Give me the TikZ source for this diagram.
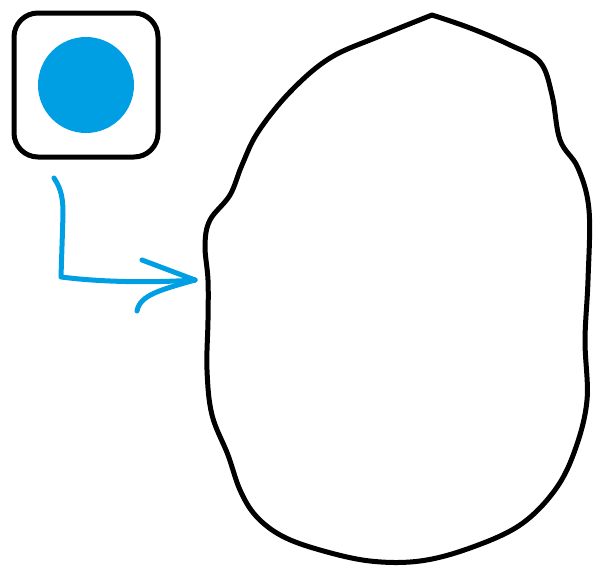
\documentclass[tikz,border=0pt]{standalone}
\definecolor{iconblue}{HTML}{009FE3}
\tikzset{
  outline/.style={line width=5pt, draw=black, line join=round, line cap=round},
  bluearrow/.style={line width=5pt, draw=iconblue, line cap=round, line join=round}
}
\begin{document}
\begin{tikzpicture}[x=1pt,y=-1pt]
\useasboundingbox (0,0) rectangle (601,570);
% icon
\node[outline, rounded corners=24pt, minimum width=144pt, minimum height=144pt, inner sep=0pt] (icon) at (86,85) {};
\fill[iconblue] (icon.center) circle (48);
% blob
\draw[outline] plot[smooth, tension=0.6] coordinates {
 (432,15) (470,28) (510,45) (540,62) (552,95) (560,140) (578,168) (589,210) (588,280)
 (585,340) (587,400) (575,450) (555,490) (520,525) (470,548) (420,561) (370,561)
 (320,550) (282,536) (256,516) (240,490) (228,455) (212,415) (207,370) (208,320)
 (208,280) (205,245) (210,220) (230,195) (242,165) (258,132) (290,92) (330,58)
 (380,36) (432,15)};
\coordinate (blob) at (195,280);
% arrow
\coordinate (s) at (54,178);
\coordinate (k) at (61,277);
\draw[bluearrow] (s) .. controls (62,190) and (63,200) .. (63,215) -- (61,277)
  .. controls (100,282) and (150,283) .. (blob);
\draw[bluearrow] (142,260) -- (blob);
\draw[bluearrow] (137,311) .. controls (140,295) and (160,290) .. (blob);
\end{tikzpicture}
\end{document}
